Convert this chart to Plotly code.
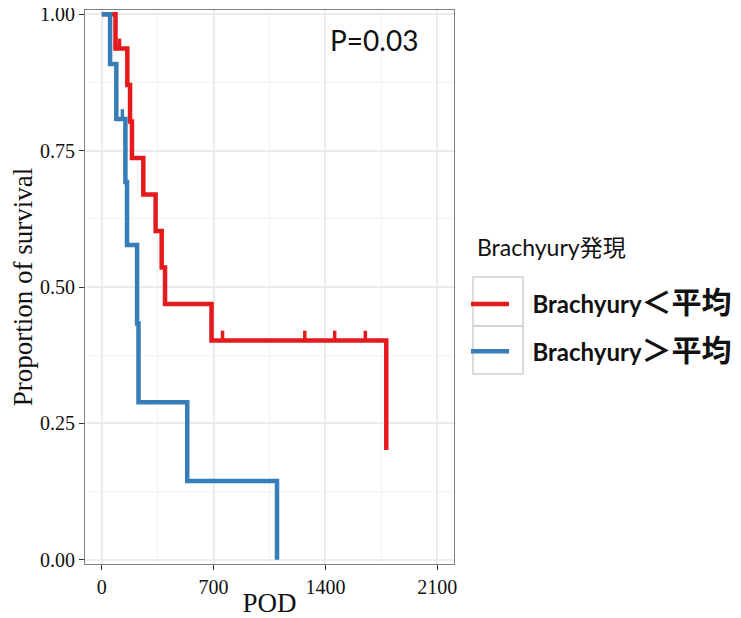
import plotly.graph_objects as go

# ---- data ----
red_name = "Brachyury＜平均"
blue_name = "Brachyury＞平均"

red_time = [0, 86, 160, 177, 189, 260, 337, 375, 396, 687, 1781]
red_surv = [1.0, 0.9375, 0.8705, 0.8036, 0.7366, 0.6696, 0.6027, 0.5357, 0.4688, 0.4018, 0.2009]
red_censor_time = [111, 756, 1271, 1458, 1650]
red_censor_surv = [0.9375, 0.4018, 0.4018, 0.4018, 0.4018]

blue_time = [0, 52, 91, 148, 158, 221, 230, 535, 1097]
blue_surv = [1.0, 0.9091, 0.8081, 0.6926, 0.5772, 0.4329, 0.2886, 0.1443, 0.0]
blue_censor_time = [129]
blue_censor_surv = [0.8081]

x_ticks = [0, 700, 1400, 2100]
y_ticks = [0, 0.25, 0.5, 0.75, 1.0]
y_tick_text = ["0.00", "0.25", "0.50", "0.75", "1.00"]
p_text = "P=0.03"
legend_title = "Brachyury発現"

RED = "#E41A1C"
BLUE = "#377EB8"
TICK_H = 0.018

SERIF = "Liberation Serif, Times New Roman, serif"
SANS = "Lato, Noto Sans CJK JP, sans-serif"


def censor_segments(ts, ss):
    xs, ys = [], []
    for t, s in zip(ts, ss):
        xs += [t, t, None]
        ys += [s, s + TICK_H, None]
    return xs, ys


def legend_label(name):
    latin, cjk = name[:9], name[9:]
    return ("&nbsp;&nbsp;&nbsp;<b>" + latin +
            "<span style='font-size:30px'>" + cjk + "</span></b>")


fig = go.Figure()

fig.add_trace(go.Scatter(x=red_time, y=red_surv, mode="lines", line_shape="hv",
                         line=dict(color=RED, width=4.5), name=legend_label(red_name),
                         legendgroup="a"))
cx, cy = censor_segments(red_censor_time, red_censor_surv)
fig.add_trace(go.Scatter(x=cx, y=cy, mode="lines", line=dict(color=RED, width=3.5),
                         showlegend=False, legendgroup="a", hoverinfo="skip"))

fig.add_trace(go.Scatter(x=blue_time, y=blue_surv, mode="lines", line_shape="hv",
                         line=dict(color=BLUE, width=4.5), name=legend_label(blue_name),
                         legendgroup="b"))
cx, cy = censor_segments(blue_censor_time, blue_censor_surv)
fig.add_trace(go.Scatter(x=cx, y=cy, mode="lines", line=dict(color=BLUE, width=3.5),
                         showlegend=False, legendgroup="b", hoverinfo="skip"))

fig.add_annotation(x=1702, y=0.953, xref="x", yref="y", text=p_text, showarrow=False,
                   font=dict(family=SANS, size=28, color="#111111"))


# plot area spans page px 85..454 horizontally and 10..564 vertically
def px_x(p):
    return (p - 85) / 369.0


def px_y(p):
    return (564 - p) / 554.0


fig.add_annotation(x=px_x(475), y=px_y(247), xref="paper", yref="paper",
                   xanchor="left", yanchor="middle", text=legend_title, showarrow=False,
                   font=dict(family=SANS, size=23, color="#111111"))

for (y0, y1) in [(277, 326), (326, 374)]:
    fig.add_shape(type="rect", xref="paper", yref="paper",
                  x0=px_x(473), x1=px_x(523), y0=px_y(y1), y1=px_y(y0),
                  line=dict(color="#D0D0D0", width=1.5), fillcolor="rgba(0,0,0,0)",
                  layer="below")

axis_common = dict(
    showline=True, mirror=True, linecolor="#7F7F7F", linewidth=1.2,
    ticks="outside", ticklen=5, tickwidth=1.2, tickcolor="#333333",
    showgrid=True, gridcolor="#EBEBEB", gridwidth=1.5, zeroline=False,
    tickfont=dict(family=SERIF, size=20, color="#111111"),
    automargin=False, ticklabeloverflow="allow",
)

# the page body adds an 8px offset, so the figure is 8px smaller and shifted
fig.update_layout(
    width=733, height=610,
    margin=dict(l=77, r=287, t=2, b=54),
    paper_bgcolor="white", plot_bgcolor="white",
    xaxis=dict(range=[-105, 2205], tickvals=x_ticks,
               minor=dict(tickvals=[350, 1050, 1750], showgrid=True, gridcolor="#F3F3F3",
                          gridwidth=0.8, ticks=""),
               title=dict(text="POD", font=dict(family=SERIF, size=27, color="#111111"),
                          standoff=0),
               **axis_common),
    yaxis=dict(range=[-0.008, 1.008], tickvals=y_ticks, ticktext=y_tick_text,
               minor=dict(tickvals=[0.125, 0.375, 0.625, 0.875], showgrid=True,
                          gridcolor="#F3F3F3", gridwidth=0.8, ticks=""),
               title=dict(text="Proportion of survival",
                          font=dict(family=SERIF, size=27, color="#111111"), standoff=2),
               **axis_common),
    legend=dict(
        x=px_x(466), y=px_y(282), xanchor="left", yanchor="top",
        font=dict(family=SANS, size=24, color="#111111"),
        traceorder="grouped", tracegroupgap=13, itemwidth=38,
        bgcolor="rgba(0,0,0,0)",
    ),
    showlegend=True,
)

fig.write_html("out.html")
